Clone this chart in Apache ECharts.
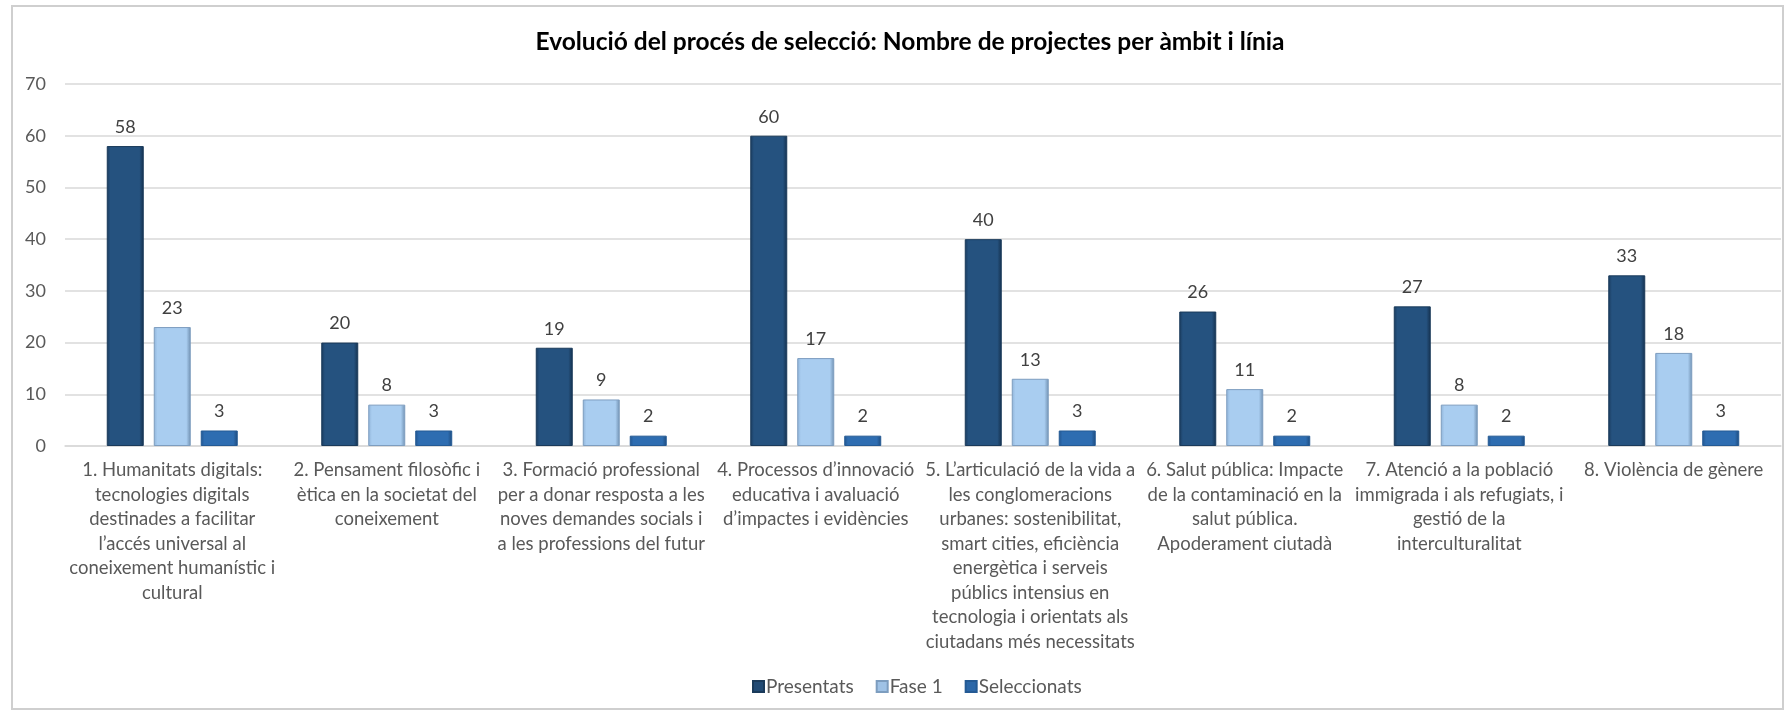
<!DOCTYPE html>
<html>
<head>
<meta charset="utf-8">
<script src="https://cdn.jsdelivr.net/npm/echarts@6/dist/echarts.min.js"></script>
<style>
  html, body { margin: 0; padding: 0; background: #fff; }
  #chart { width: 1786px; height: 712px; }
</style>
</head>
<body>
<div id="chart"></div>
<script>
// Evolució del procés de selecció — projectes per àmbit i línia
const categories = [
  "1. Humanitats digitals:\ntecnologies digitals\ndestinades a facilitar\nl’accés universal al\nconeixement humanístic i\ncultural",
  "2. Pensament filosòfic i\nètica en la societat del\nconeixement",
  "3. Formació professional\nper a donar resposta a les\nnoves demandes socials i\na les professions del futur",
  "4. Processos d’innovació\neducativa i avaluació\nd’impactes i evidències",
  "5. L’articulació de la vida a\nles conglomeracions\nurbanes: sostenibilitat,\nsmart cities, eficiència\nenergètica i serveis\npúblics intensius en\ntecnologia i orientats als\nciutadans més necessitats",
  "6. Salut pública: Impacte\nde la contaminació en la\nsalut pública.\nApoderament ciutadà",
  "7. Atenció a la població\nimmigrada i als refugiats, i\ngestió de la\ninterculturalitat",
  "8. Violència de gènere"
];
const seriesNames = ["Presentats", "Fase 1", "Seleccionats"];
const presentats = [58, 20, 19, 60, 40, 26, 27, 33];
const fase1 = [23, 8, 9, 17, 13, 11, 8, 18];
const seleccionats = [3, 3, 2, 2, 3, 2, 2, 3];
const yMin = 0, yMax = 70, yStep = 10;

const FONT = "Lato, 'Open Sans', sans-serif";

// bisell aproximat: vores fosques, centre pla
function bevel(edge, body, edge2) {
  return new echarts.graphic.LinearGradient(0, 0, 1, 0, [
    { offset: 0, color: edge },
    { offset: 0.1, color: body },
    { offset: 0.88, color: body },
    { offset: 1, color: edge2 }
  ]);
}

const palette = [
  { fill: bevel("#1a3b5e", "#25527f", "#14304d"), border: "#1a3a5a", legend: "#214a74" },
  { fill: bevel("#8fb3d8", "#a9cdf0", "#6f8fb0"), border: "#7d9dbf", legend: "#9fc2e6" },
  { fill: bevel("#22558f", "#2e6db1", "#1d4a7c"), border: "#245a94", legend: "#2b67a8" }
];
const values = [presentats, fase1, seleccionats];

const chart = echarts.init(document.getElementById("chart"), null, { renderer: "canvas" });

chart.setOption({
  animation: false,
  backgroundColor: "#ffffff",
  textStyle: { fontFamily: FONT },
  title: {
    text: "Evolució del procés de selecció: Nombre de projectes per àmbit i línia",
    left: 905,
    top: 25,
    textAlign: "center",
    textStyle: { fontFamily: FONT, fontSize: 24.5, fontWeight: "bold", color: "#000000" }
  },
  legend: {
    data: seriesNames.map((n, i) => ({ name: n, itemStyle: { color: palette[i].legend } })),
    top: 672,
    left: 747,
    icon: "rect",
    itemWidth: 11,
    itemHeight: 11,
    itemGap: 22,
    textStyle: { fontFamily: FONT, fontSize: 19, color: "#595959", padding: [0, 0, 0, -3] }
  },
  grid: { left: 65, right: 5, top: 84, bottom: 266 },
  xAxis: {
    type: "category",
    data: categories,
    axisTick: { show: false },
    axisLine: { lineStyle: { color: "#d9d9d9", width: 1.5 } },
    axisLabel: {
      interval: 0,
      margin: 12,
      color: "#595959",
      fontFamily: FONT,
      fontSize: 18.5,
      lineHeight: 24.5,
      align: "center"
    }
  },
  yAxis: {
    type: "value",
    min: yMin,
    max: yMax,
    interval: yStep,
    axisLine: { show: false },
    axisTick: { show: false },
    axisLabel: { color: "#595959", fontFamily: FONT, fontSize: 18, margin: 19 },
    splitLine: { lineStyle: { color: "#d9d9d9", width: 1.5 } }
  },
  series: seriesNames.map((name, i) => ({
    name,
    type: "bar",
    data: values[i],
    barWidth: 37,
    barGap: "27%",
    itemStyle: { color: palette[i].fill, borderColor: palette[i].border, borderWidth: 1 },
    label: {
      show: true,
      position: "top",
      distance: 10,
      color: "#404040",
      fontFamily: FONT,
      fontSize: 18
    }
  })),
  graphic: [
    {
      type: "rect",
      shape: { x: 12, y: 6, width: 1771, height: 703 },
      style: { fill: "none", stroke: "#cfcfcf", lineWidth: 2 },
      silent: true,
      z: -1
    }
  ]
});
</script>
</body>
</html>
